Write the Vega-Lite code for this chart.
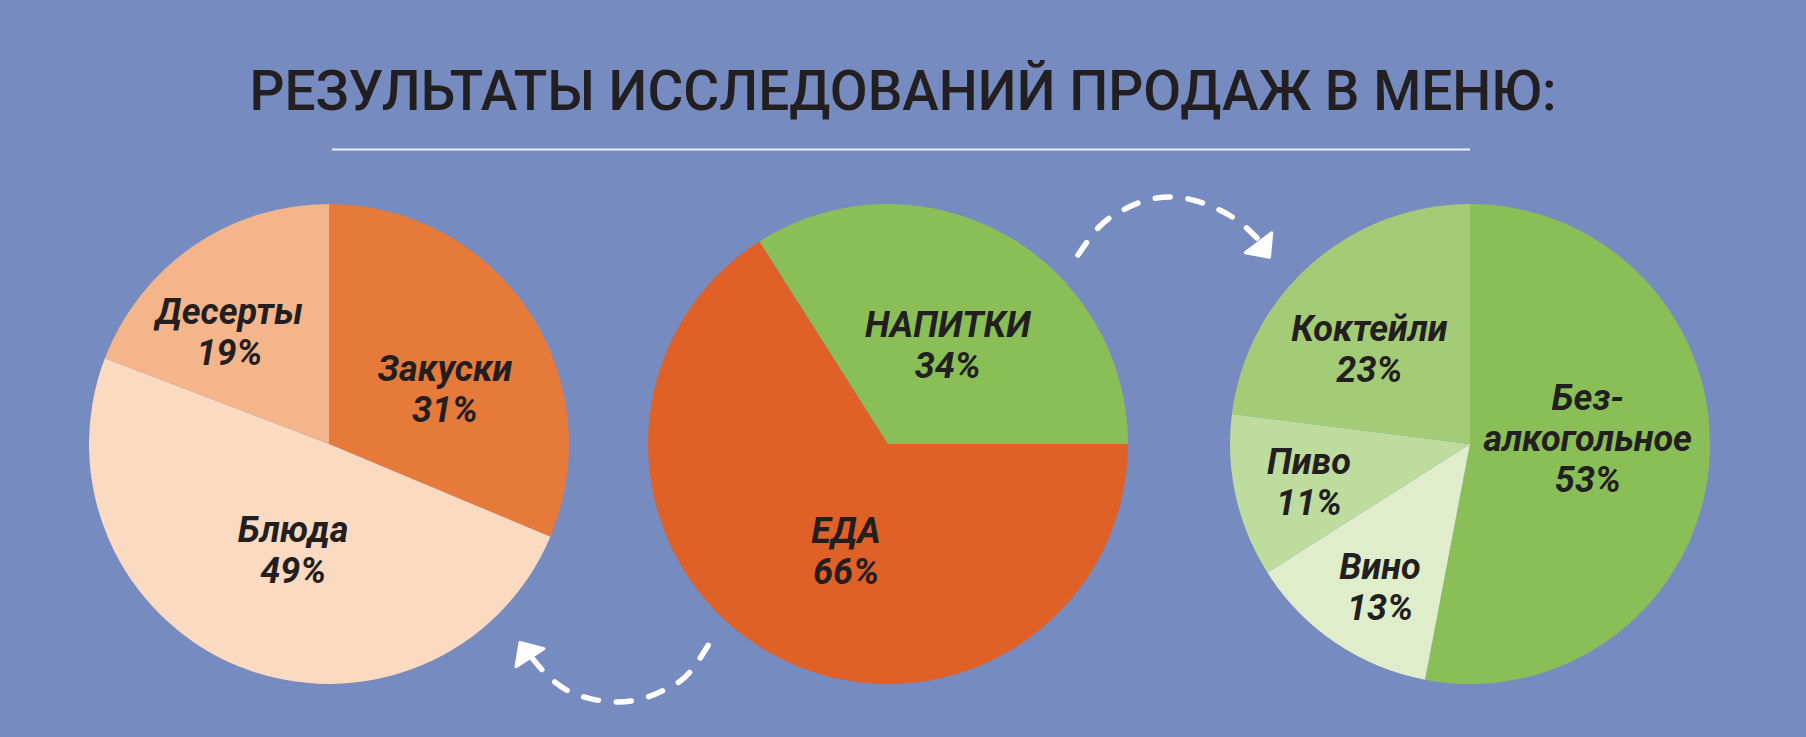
{
  "$schema": "https://vega.github.io/schema/vega-lite/v6.json",
  "width": 1806,
  "height": 586,
  "autosize": "none",
  "padding": {"top": 151, "left": 0, "right": 0, "bottom": 0},
  "background": "#768BC0",
  "config": {"view": {"stroke": null}, "font": "Roboto"},
  "title": {
    "text": "РЕЗУЛЬТАТЫ ИССЛЕДОВАНИЙ ПРОДАЖ В МЕНЮ:",
    "font": "Roboto",
    "fontSize": 55,
    "fontWeight": 500,
    "color": "#231F20",
    "anchor": "middle",
    "frame": "group",
    "baseline": "alphabetic",
    "offset": -16
  },
  "datasets": {
    "slices": [
      {"pie": "Еда", "category": "Закуски", "share": 31, "rank": 1, "label": "Закуски\n31%"},
      {"pie": "Еда", "category": "Блюда", "share": 49, "rank": 2, "label": "Блюда\n49%"},
      {"pie": "Еда", "category": "Десерты", "share": 19, "rank": 3, "label": "Десерты\n19%"},
      {"pie": "Всего", "category": "ЕДА", "share": 66, "rank": 1, "label": "ЕДА\n66%"},
      {"pie": "Всего", "category": "НАПИТКИ", "share": 34, "rank": 2, "label": "НАПИТКИ\n34%"},
      {"pie": "Напитки", "category": "Безалкогольное", "share": 53, "rank": 1, "label": "Без-\nалкогольное\n53%"},
      {"pie": "Напитки", "category": "Вино", "share": 13, "rank": 2, "label": "Вино\n13%"},
      {"pie": "Напитки", "category": "Пиво", "share": 11, "rank": 3, "label": "Пиво\n11%"},
      {"pie": "Напитки", "category": "Коктейли", "share": 23, "rank": 4, "label": "Коктейли\n23%"}
    ],
    "arrows": [
      {"arrow": "top", "x": 1078, "y": 255},
      {"arrow": "top", "x": 1099, "y": 227},
      {"arrow": "top", "x": 1127, "y": 208},
      {"arrow": "top", "x": 1170, "y": 197},
      {"arrow": "top", "x": 1213, "y": 207},
      {"arrow": "top", "x": 1242, "y": 224},
      {"arrow": "top", "x": 1257, "y": 238},
      {"arrow": "bottom", "x": 709, "y": 644},
      {"arrow": "bottom", "x": 690, "y": 672},
      {"arrow": "bottom", "x": 660, "y": 692},
      {"arrow": "bottom", "x": 618, "y": 702},
      {"arrow": "bottom", "x": 575, "y": 694},
      {"arrow": "bottom", "x": 547, "y": 675},
      {"arrow": "bottom", "x": 532, "y": 658}
    ],
    "heads": [
      {"arrow": "top", "x": 1264, "y": 250, "angle": 143},
      {"arrow": "bottom", "x": 525, "y": 650, "angle": 327}
    ]
  },
  "layer": [
    {
      "data": {"name": "slices"},
      "transform": [{"filter": "datum.pie == 'Еда'"}],
      "encoding": {
        "x": {"field": "pie", "type": "nominal", "scale": {"type": "point", "domain": ["Еда"], "range": [329, 329]}, "axis": null},
        "theta": {"field": "share", "type": "quantitative", "stack": true, "scale": {"range": [0, 6.2832]}},
        "order": {"field": "rank", "type": "quantitative"},
        "detail": {"field": "category"},
        "color": {
          "field": "category",
          "type": "nominal",
          "scale": {"domain": ["Закуски", "Блюда", "Десерты"], "range": ["#E67A3A", "#FADAC0", "#F5B58B"]},
          "legend": null
        }
      },
      "layer": [
        {"mark": {"type": "arc", "outerRadius": 240}},
        {
          "mark": {"type": "text", "radius": 129, "thetaOffset": 0.133, "dy": -17, "font": "Roboto", "fontSize": 36, "fontWeight": "bold", "fontStyle": "italic", "lineBreak": "\n", "lineHeight": 41, "align": "center", "baseline": "middle"},
          "encoding": {"color": {"value": "#231F20"}, "text": {"condition": {"test": "datum.category == 'Закуски'", "field": "label"}, "value": ""}}
        },
        {
          "mark": {"type": "text", "radius": 110, "thetaOffset": -0.049, "dy": -17, "font": "Roboto", "fontSize": 36, "fontWeight": "bold", "fontStyle": "italic", "lineBreak": "\n", "lineHeight": 41, "align": "center", "baseline": "middle"},
          "encoding": {"color": {"value": "#231F20"}, "text": {"condition": {"test": "datum.category == 'Блюда'", "field": "label"}, "value": ""}}
        },
        {
          "mark": {"type": "text", "radius": 151, "thetaOffset": -0.117, "dy": -17, "font": "Roboto", "fontSize": 36, "fontWeight": "bold", "fontStyle": "italic", "lineBreak": "\n", "lineHeight": 41, "align": "center", "baseline": "middle"},
          "encoding": {"color": {"value": "#231F20"}, "text": {"condition": {"test": "datum.category == 'Десерты'", "field": "label"}, "value": ""}}
        }
      ]
    },
    {
      "data": {"name": "slices"},
      "transform": [{"filter": "datum.pie == 'Всего'"}],
      "encoding": {
        "x": {"field": "pie", "type": "nominal", "scale": {"type": "point", "domain": ["Всего"], "range": [888, 888]}, "axis": null},
        "theta": {"field": "share", "type": "quantitative", "stack": true, "scale": {"range": [1.5708, 7.854]}},
        "order": {"field": "rank", "type": "quantitative"},
        "detail": {"field": "category"},
        "color": {
          "field": "category",
          "type": "nominal",
          "scale": {"domain": ["ЕДА", "НАПИТКИ"], "range": ["#DF6127", "#89BF56"]},
          "legend": null
        }
      },
      "layer": [
        {"mark": {"type": "arc", "outerRadius": 240}},
        {
          "mark": {"type": "text", "radius": 113, "thetaOffset": -0.122, "dy": -17, "font": "Roboto", "fontSize": 36, "fontWeight": "bold", "fontStyle": "italic", "lineBreak": "\n", "lineHeight": 41, "align": "center", "baseline": "middle"},
          "encoding": {"color": {"value": "#231F20"}, "text": {"condition": {"test": "datum.category == 'ЕДА'", "field": "label"}, "value": ""}}
        },
        {
          "mark": {"type": "text", "radius": 117, "thetaOffset": 0.033, "dy": -17, "font": "Roboto", "fontSize": 36, "fontWeight": "bold", "fontStyle": "italic", "lineBreak": "\n", "lineHeight": 41, "align": "center", "baseline": "middle"},
          "encoding": {"color": {"value": "#231F20"}, "text": {"condition": {"test": "datum.category == 'НАПИТКИ'", "field": "label"}, "value": ""}}
        }
      ]
    },
    {
      "data": {"name": "slices"},
      "transform": [{"filter": "datum.pie == 'Напитки'"}],
      "encoding": {
        "x": {"field": "pie", "type": "nominal", "scale": {"type": "point", "domain": ["Напитки"], "range": [1470, 1470]}, "axis": null},
        "theta": {"field": "share", "type": "quantitative", "stack": true, "scale": {"range": [0, 6.2832]}},
        "order": {"field": "rank", "type": "quantitative"},
        "detail": {"field": "category"},
        "color": {
          "field": "category",
          "type": "nominal",
          "scale": {"domain": ["Безалкогольное", "Вино", "Пиво", "Коктейли"], "range": ["#89BF56", "#E0EDCB", "#BEDC9D", "#A4CC76"]},
          "legend": null
        }
      },
      "layer": [
        {"mark": {"type": "arc", "outerRadius": 240}},
        {
          "mark": {"type": "text", "radius": 118, "thetaOffset": -0.154, "dy": -38, "font": "Roboto", "fontSize": 36, "fontWeight": "bold", "fontStyle": "italic", "lineBreak": "\n", "lineHeight": 41, "align": "center", "baseline": "middle"},
          "encoding": {"color": {"value": "#231F20"}, "text": {"condition": {"test": "datum.category == 'Безалкогольное'", "field": "label"}, "value": ""}}
        },
        {
          "mark": {"type": "text", "radius": 167, "thetaOffset": -0.028, "dy": -17, "font": "Roboto", "fontSize": 36, "fontWeight": "bold", "fontStyle": "italic", "lineBreak": "\n", "lineHeight": 41, "align": "center", "baseline": "middle"},
          "encoding": {"color": {"value": "#231F20"}, "text": {"condition": {"test": "datum.category == 'Вино'", "field": "label"}, "value": ""}}
        },
        {
          "mark": {"type": "text", "radius": 165, "thetaOffset": 0, "dy": -17, "font": "Roboto", "fontSize": 36, "fontWeight": "bold", "fontStyle": "italic", "lineBreak": "\n", "lineHeight": 41, "align": "center", "baseline": "middle"},
          "encoding": {"color": {"value": "#231F20"}, "text": {"condition": {"test": "datum.category == 'Пиво'", "field": "label"}, "value": ""}}
        },
        {
          "mark": {"type": "text", "radius": 140, "thetaOffset": -0.08, "dy": -17, "font": "Roboto", "fontSize": 36, "fontWeight": "bold", "fontStyle": "italic", "lineBreak": "\n", "lineHeight": 41, "align": "center", "baseline": "middle"},
          "encoding": {"color": {"value": "#231F20"}, "text": {"condition": {"test": "datum.category == 'Коктейли'", "field": "label"}, "value": ""}}
        }
      ]
    },
    {
      "layer": [
        {
          "data": {"values": [{}]},
          "mark": {"type": "rule", "stroke": "#EEF1F8", "strokeWidth": 2},
          "encoding": {
            "x": {"datum": 332, "type": "quantitative", "scale": {"domain": [0, 1806], "nice": false, "zero": false}, "axis": null},
            "x2": {"datum": 1470},
            "y": {"datum": 149.5, "type": "quantitative", "scale": {"domain": [151, 737], "reverse": true, "nice": false, "zero": false}, "axis": null}
          }
        },
        {
          "data": {"name": "arrows"},
          "mark": {"type": "line", "stroke": "white", "strokeWidth": 5.5, "strokeDash": [15, 18], "strokeCap": "round", "interpolate": "monotone"},
          "encoding": {
            "x": {"field": "x", "type": "quantitative", "scale": {"domain": [0, 1806], "nice": false, "zero": false}, "axis": null},
            "y": {"field": "y", "type": "quantitative", "scale": {"domain": [151, 737], "reverse": true, "nice": false, "zero": false}, "axis": null},
            "detail": {"field": "arrow"}
          }
        },
        {
          "data": {"name": "heads"},
          "mark": {"type": "point", "shape": "M-1,0.55L1,0.55L0,-0.55Z", "filled": true, "fill": "white", "stroke": "white", "strokeWidth": 3, "strokeJoin": "round", "size": 1100, "opacity": 1},
          "encoding": {
            "x": {"field": "x", "type": "quantitative", "scale": {"domain": [0, 1806], "nice": false, "zero": false}, "axis": null},
            "y": {"field": "y", "type": "quantitative", "scale": {"domain": [151, 737], "reverse": true, "nice": false, "zero": false}, "axis": null},
            "angle": {"field": "angle", "type": "quantitative", "scale": null}
          }
        }
      ]
    }
  ],
  "resolve": {"scale": {"x": "independent", "y": "independent", "theta": "independent", "color": "independent"}}
}
